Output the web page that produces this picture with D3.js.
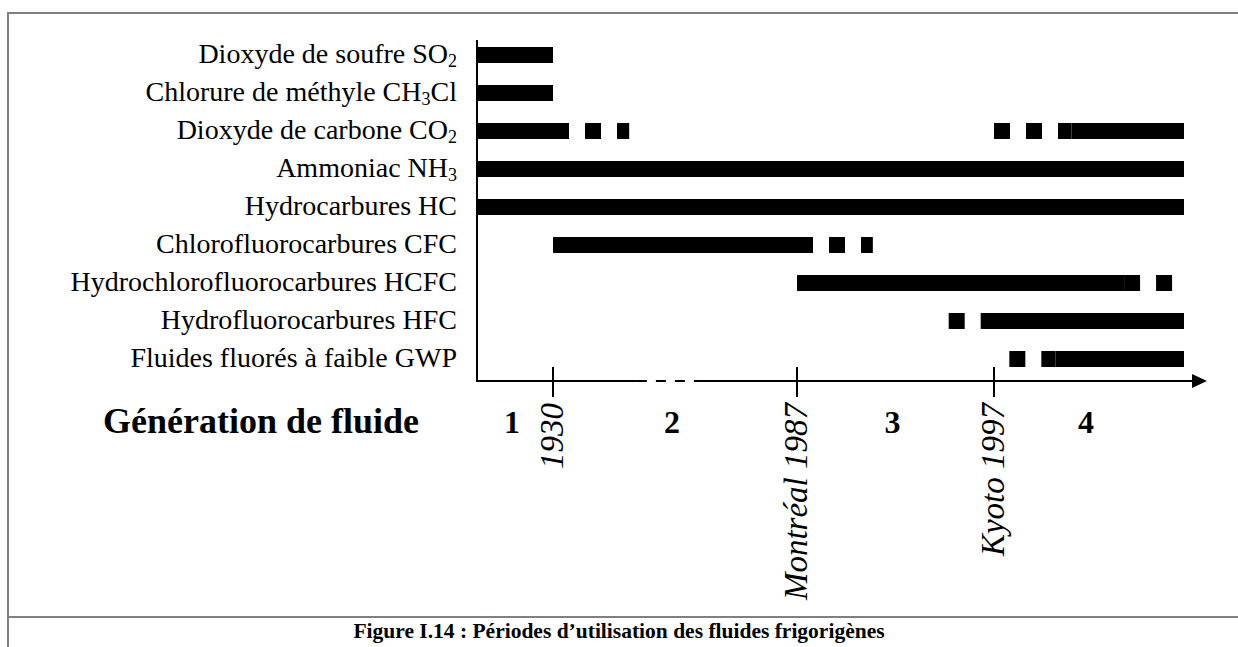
<!DOCTYPE html>
<html>
<head>
<meta charset="utf-8">
<script src="https://cdn.jsdelivr.net/npm/d3@7"></script>
<style>
  html, body { margin: 0; padding: 0; background: #fff; }
  svg { display: block; font-family: "Liberation Serif", "Times New Roman", serif; }
</style>
</head>
<body>
<svg id="chart" width="1238" height="647"></svg>
<script>
// ---------------- DATA ----------------
const categories = ["SO2", "CH3Cl", "CO2", "NH3", "HC", "CFC", "HCFC", "HFC", "GWP"];
const categoryLabels = [
  "Dioxyde de soufre SO_2",
  "Chlorure de méthyle CH_3Cl",
  "Dioxyde de carbone CO_2",
  "Ammoniac NH_3",
  "Hydrocarbures HC",
  "Chlorofluorocarbures CFC",
  "Hydrochlorofluorocarbures HCFC",
  "Hydrofluorocarbures HFC",
  "Fluides fluorés à faible GWP"
];
// periods of full use [category, start year, end year]
const solidPeriods = [
  ["SO2", 1850, 1930],
  ["CH3Cl", 1850, 1930],
  ["CO2", 1850, 1930],
  ["CO2", 2002.3, 2010],
  ["NH3", 1850, 2010],
  ["HC", 1850, 2010],
  ["CFC", 1930, 1987],
  ["HCFC", 1987, 2005.9],
  ["HFC", 1997, 2010],
  ["GWP", 2001.2, 2010]
];
// periods of partial use / phase in-out (dotted) [category, start, end]
const dottedPeriods = [
  ["CO2", 1930, 1947.8],
  ["CO2", 1997, 2002.3],
  ["CFC", 1987, 1990.85],
  ["HCFC", 2005.9, 2009.2],
  ["HFC", 1994.7, 1997],
  ["GWP", 1998.05, 2001.2]
];
// timeline breakpoints (non-linear schematic time axis)
const timeBreaks = [1850, 1930, 1987, 1997, 2010];
const milestoneYears = [1930, 1987, 1997];
const milestoneLabels = ["1930", "Montréal 1987", "Kyoto 1997"];
const generationLabels = ["1", "2", "3", "4"];
const axisBreak = [1949.6, 1964.1];
const generationTitle = "Génération de fluide";
const caption = "Figure I.14 : Périodes d\u2019utilisation des fluides frigorigènes";

// ---------------- LAYOUT ----------------
const W = 1238, H = 647;
const originX = 477, axisY = 381, axisTop = 40;
const svg = d3.select("#chart");

// piecewise linear schematic scale
const x = d3.scaleLinear().domain(timeBreaks).range([originX, 553, 797, 994, 1184]);
const y = d3.scalePoint().domain(categories).range([36, 378]).padding(0.5);
const barH = 16;

// frame
svg.append("path")
  .attr("d", `M8,${H} V13 H${W + 2}`)
  .attr("fill", "none").attr("stroke", "#808080").attr("stroke-width", 2);
svg.append("line")
  .attr("x1", 8).attr("x2", W + 2).attr("y1", 617).attr("y2", 617)
  .attr("stroke", "#808080").attr("stroke-width", 2);

// category labels with subscripts
const lab = svg.append("g").selectAll("text").data(categories).join("text")
  .attr("x", 457).attr("y", d => y(d) + 8)
  .attr("text-anchor", "end")
  .attr("font-size", 28).attr("fill", "#000");
lab.each(function(d, i) {
  const t = d3.select(this);
  const parts = categoryLabels[i].split(/_(\d)/);
  parts.forEach((p, j) => {
    if (p === "") return;
    if (j % 2 === 1) {
      t.append("tspan").attr("font-size", 18).attr("dy", 4).text(p);
    } else {
      const ts = t.append("tspan").text(p);
      if (j > 0) ts.attr("dy", -4);
    }
  });
});

// solid bars
svg.append("g").selectAll("rect").data(solidPeriods).join("rect")
  .attr("x", d => x(d[1]))
  .attr("width", d => x(d[2]) - x(d[1]))
  .attr("y", d => y(d[0]) - barH / 2)
  .attr("height", barH)
  .attr("fill", "#000");

// dotted bars
svg.append("g").selectAll("line").data(dottedPeriods).join("line")
  .attr("x1", d => x(d[1])).attr("x2", d => x(d[2]))
  .attr("y1", d => y(d[0])).attr("y2", d => y(d[0]))
  .attr("stroke", "#000").attr("stroke-width", barH)
  .attr("stroke-dasharray", `${barH} ${barH}`);

// y axis line
svg.append("line")
  .attr("x1", originX).attr("x2", originX).attr("y1", axisTop).attr("y2", axisY + 1)
  .attr("stroke", "#000").attr("stroke-width", 2);

// x axis with break and arrow
const axEnd = x(timeBreaks[timeBreaks.length - 1]) + 8;
svg.append("line")
  .attr("x1", originX).attr("x2", x(axisBreak[0])).attr("y1", axisY).attr("y2", axisY)
  .attr("stroke", "#000").attr("stroke-width", 2);
svg.append("line")
  .attr("x1", x(axisBreak[0])).attr("x2", x(axisBreak[1])).attr("y1", axisY).attr("y2", axisY)
  .attr("stroke", "#000").attr("stroke-width", 2).attr("stroke-dasharray", "10 9");
svg.append("line")
  .attr("x1", x(axisBreak[1])).attr("x2", axEnd).attr("y1", axisY).attr("y2", axisY)
  .attr("stroke", "#000").attr("stroke-width", 2);
svg.append("path")
  .attr("d", `M${axEnd},${axisY - 7} L${axEnd + 15},${axisY} L${axEnd},${axisY + 7} Z`)
  .attr("fill", "#000");

// milestone ticks and rotated labels
svg.append("g").selectAll("line").data(milestoneYears).join("line")
  .attr("x1", d => x(d)).attr("x2", d => x(d))
  .attr("y1", axisY - 14).attr("y2", axisY + 16)
  .attr("stroke", "#000").attr("stroke-width", 2);
svg.append("g").selectAll("text").data(milestoneYears).join("text")
  .attr("transform", d => `translate(${x(d) + 10},${axisY + 22}) rotate(-90)`)
  .attr("text-anchor", "end")
  .attr("font-style", "italic").attr("font-size", 33)
  .text((d, i) => milestoneLabels[i]);

// generation labels
svg.append("text")
  .attr("x", 419).attr("y", 433)
  .attr("text-anchor", "end").attr("font-weight", "bold").attr("font-size", 36)
  .text(generationTitle);
svg.append("g").selectAll("text").data(generationLabels).join("text")
  .attr("x", (d, i) => x((timeBreaks[i] + timeBreaks[i + 1]) / 2) - 3)
  .attr("y", 433)
  .attr("text-anchor", "middle").attr("font-weight", "bold").attr("font-size", 32)
  .text(d => d);

// caption
svg.append("text")
  .attr("x", 619).attr("y", 638)
  .attr("text-anchor", "middle").attr("font-weight", "bold").attr("font-size", 21.5)
  .text(caption);
</script>
</body>
</html>
